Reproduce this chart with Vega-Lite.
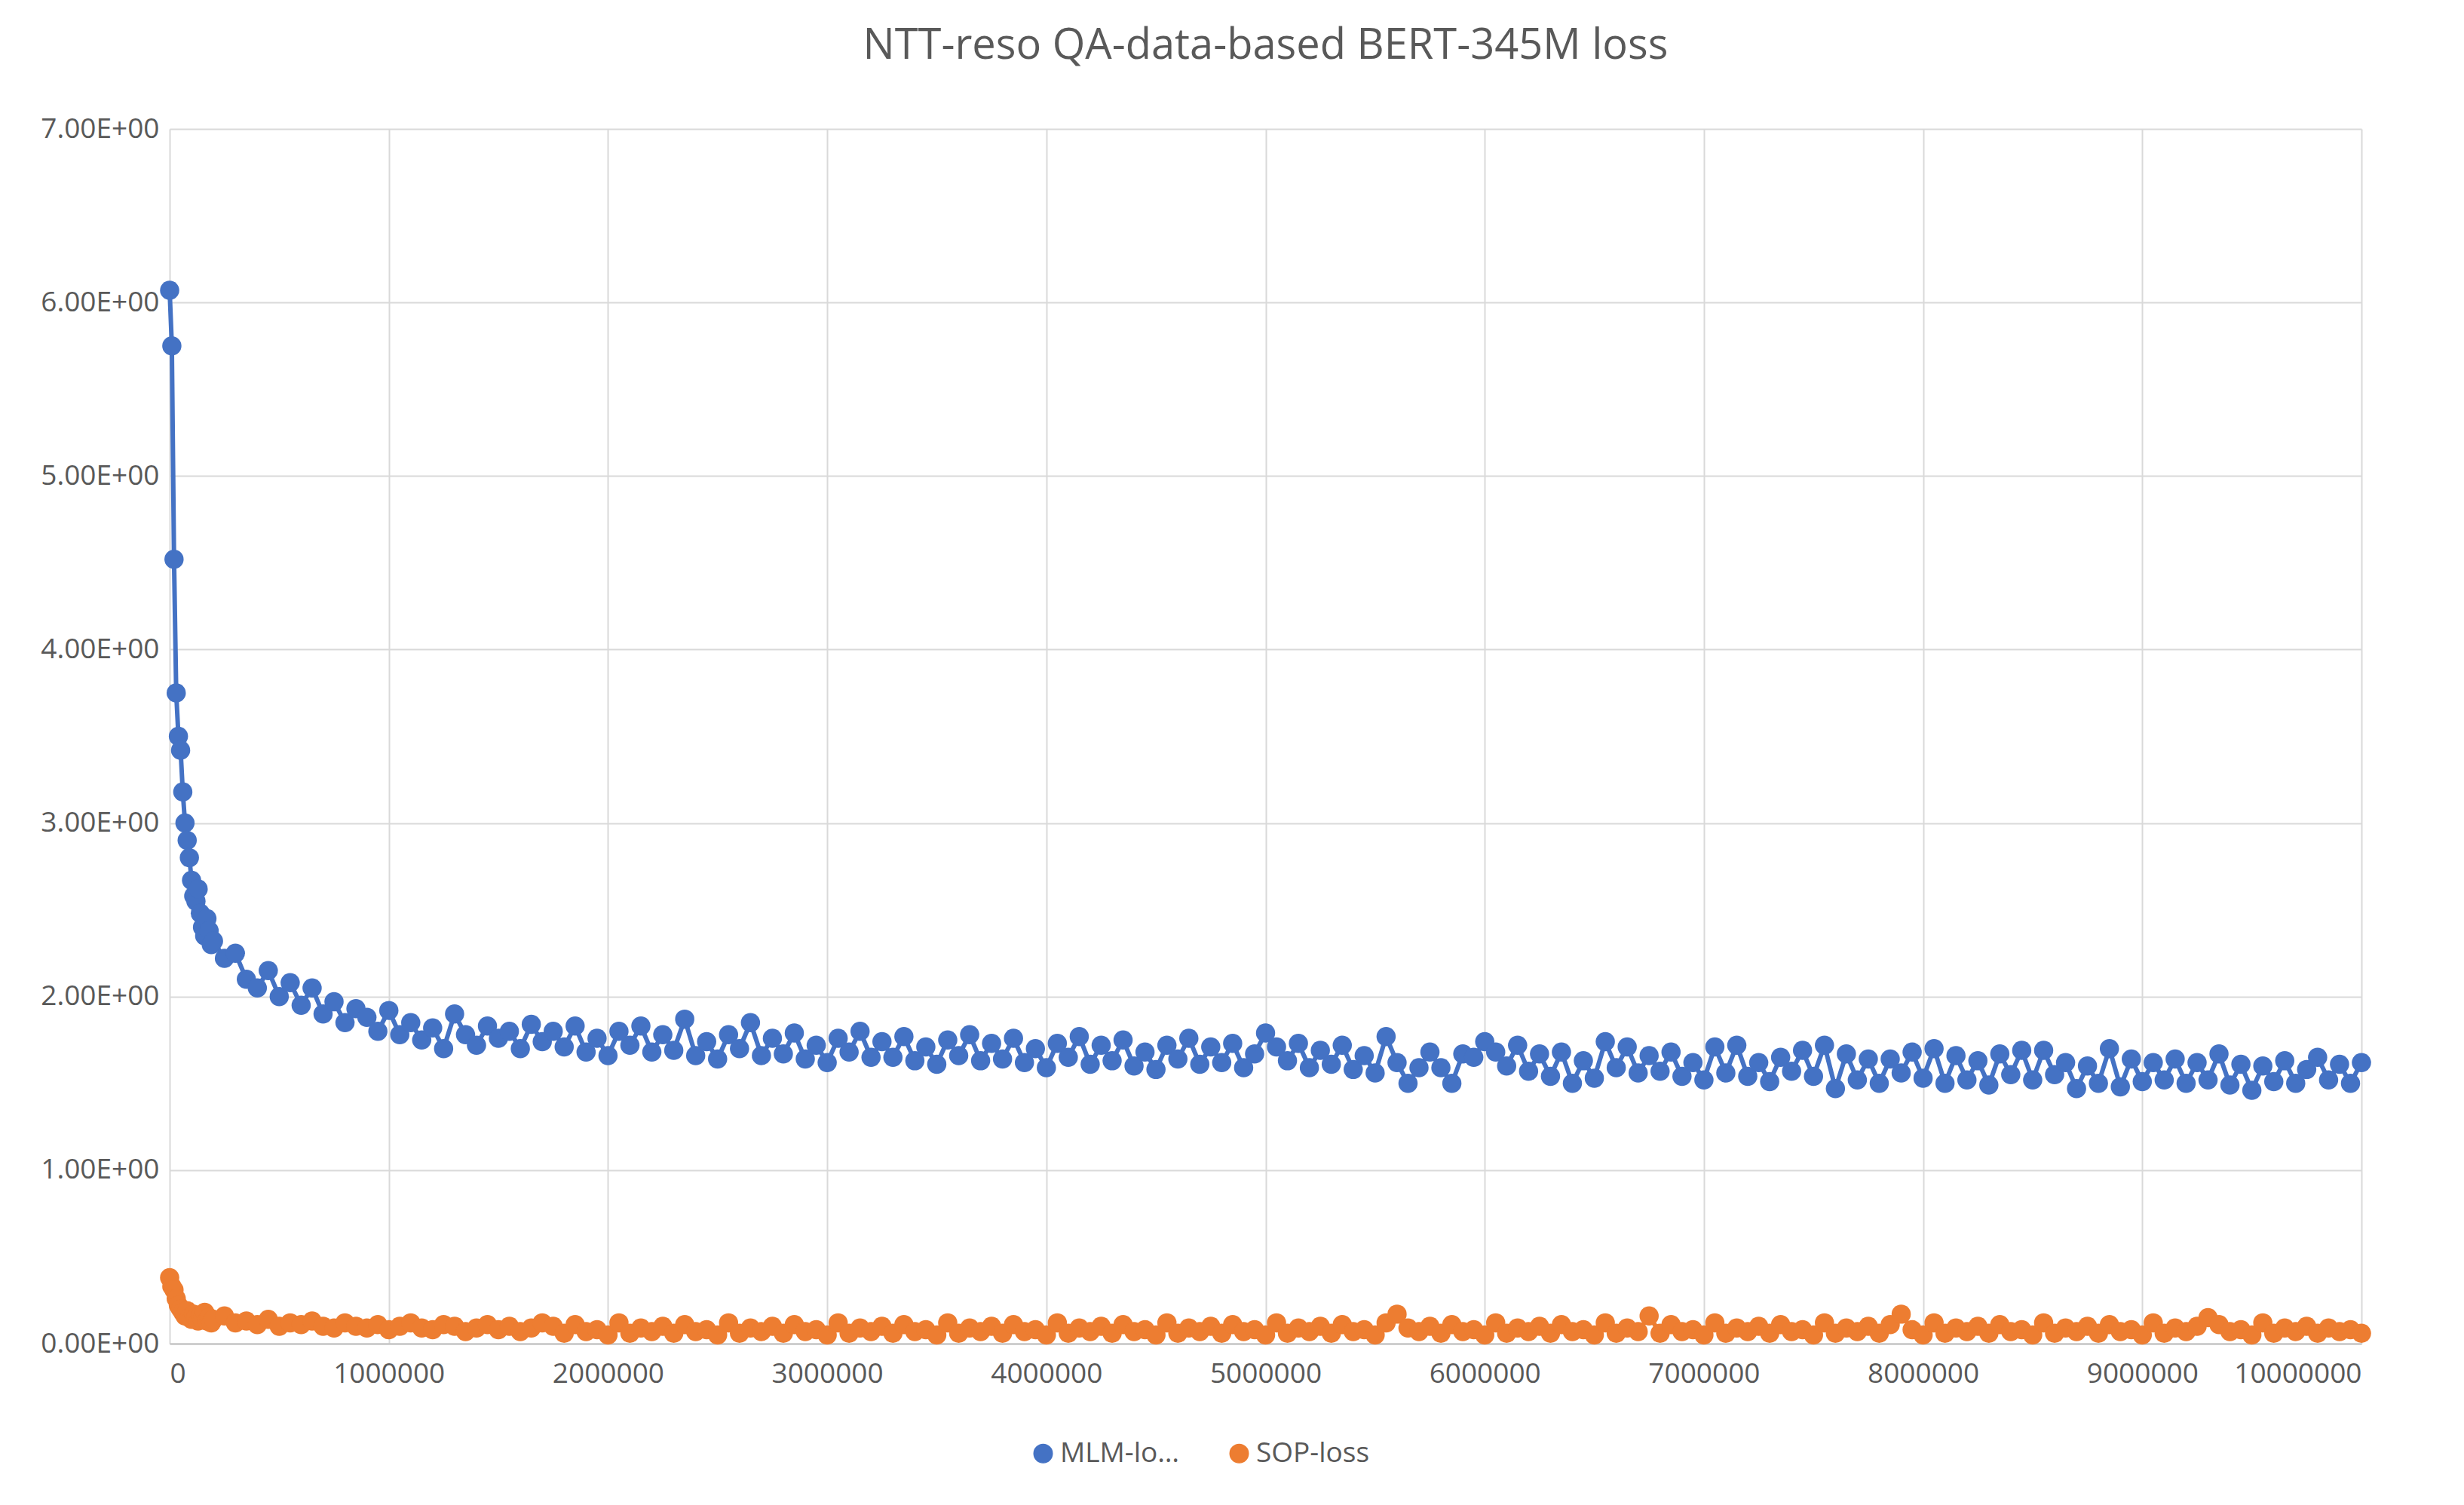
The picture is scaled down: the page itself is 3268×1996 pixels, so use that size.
{
  "$schema": "https://vega.github.io/schema/vega-lite/v6.json",
  "width": 2907,
  "height": 1611,
  "autosize": "none",
  "padding": {"left": 225, "top": 171, "right": 136, "bottom": 214},
  "background": "white",
  "title": {
    "text": "NTT-reso QA-data-based BERT-345M loss",
    "anchor": "middle",
    "offset": 62,
    "fontSize": 56,
    "font": "Open Sans",
    "fontWeight": "normal",
    "color": "#595959"
  },
  "data": {
    "values": [
      {"step": 0, "MLM": 6.07, "SOP": 0.38},
      {"step": 10000, "MLM": 5.75, "SOP": 0.33},
      {"step": 20000, "MLM": 4.52, "SOP": 0.31},
      {"step": 30000, "MLM": 3.75, "SOP": 0.26},
      {"step": 40000, "MLM": 3.5, "SOP": 0.22},
      {"step": 50000, "MLM": 3.42, "SOP": 0.2},
      {"step": 60000, "MLM": 3.18, "SOP": 0.18},
      {"step": 70000, "MLM": 3.0, "SOP": 0.16},
      {"step": 80000, "MLM": 2.9, "SOP": 0.19},
      {"step": 90000, "MLM": 2.8, "SOP": 0.15},
      {"step": 100000, "MLM": 2.67, "SOP": 0.14},
      {"step": 110000, "MLM": 2.58, "SOP": 0.17},
      {"step": 120000, "MLM": 2.55, "SOP": 0.15},
      {"step": 130000, "MLM": 2.62, "SOP": 0.13},
      {"step": 140000, "MLM": 2.48, "SOP": 0.16},
      {"step": 150000, "MLM": 2.4, "SOP": 0.14},
      {"step": 160000, "MLM": 2.35, "SOP": 0.18},
      {"step": 170000, "MLM": 2.45, "SOP": 0.13},
      {"step": 180000, "MLM": 2.38, "SOP": 0.15},
      {"step": 190000, "MLM": 2.3, "SOP": 0.12},
      {"step": 200000, "MLM": 2.32, "SOP": 0.14},
      {"step": 250000, "MLM": 2.22, "SOP": 0.16},
      {"step": 300000, "MLM": 2.25, "SOP": 0.12},
      {"step": 350000, "MLM": 2.1, "SOP": 0.13},
      {"step": 400000, "MLM": 2.05, "SOP": 0.11},
      {"step": 450000, "MLM": 2.15, "SOP": 0.14},
      {"step": 500000, "MLM": 2.0, "SOP": 0.1},
      {"step": 550000, "MLM": 2.08, "SOP": 0.12},
      {"step": 600000, "MLM": 1.95, "SOP": 0.11},
      {"step": 650000, "MLM": 2.05, "SOP": 0.13},
      {"step": 700000, "MLM": 1.9, "SOP": 0.1},
      {"step": 750000, "MLM": 1.97, "SOP": 0.09},
      {"step": 800000, "MLM": 1.85, "SOP": 0.12},
      {"step": 850000, "MLM": 1.93, "SOP": 0.1},
      {"step": 900000, "MLM": 1.88, "SOP": 0.09},
      {"step": 950000, "MLM": 1.8, "SOP": 0.11},
      {"step": 1000000, "MLM": 1.92, "SOP": 0.08},
      {"step": 1050000, "MLM": 1.78, "SOP": 0.1},
      {"step": 1100000, "MLM": 1.85, "SOP": 0.12},
      {"step": 1150000, "MLM": 1.75, "SOP": 0.09},
      {"step": 1200000, "MLM": 1.82, "SOP": 0.08},
      {"step": 1250000, "MLM": 1.7, "SOP": 0.11},
      {"step": 1300000, "MLM": 1.9, "SOP": 0.1},
      {"step": 1350000, "MLM": 1.78, "SOP": 0.07},
      {"step": 1400000, "MLM": 1.72, "SOP": 0.09},
      {"step": 1450000, "MLM": 1.83, "SOP": 0.11},
      {"step": 1500000, "MLM": 1.76, "SOP": 0.08},
      {"step": 1550000, "MLM": 1.8, "SOP": 0.1},
      {"step": 1600000, "MLM": 1.7, "SOP": 0.07},
      {"step": 1650000, "MLM": 1.84, "SOP": 0.09},
      {"step": 1700000, "MLM": 1.74, "SOP": 0.12},
      {"step": 1750000, "MLM": 1.8, "SOP": 0.1},
      {"step": 1800000, "MLM": 1.71, "SOP": 0.06},
      {"step": 1850000, "MLM": 1.83, "SOP": 0.11},
      {"step": 1900000, "MLM": 1.68, "SOP": 0.07},
      {"step": 1950000, "MLM": 1.76, "SOP": 0.08},
      {"step": 2000000, "MLM": 1.66, "SOP": 0.05},
      {"step": 2050000, "MLM": 1.8, "SOP": 0.12},
      {"step": 2100000, "MLM": 1.72, "SOP": 0.06},
      {"step": 2150000, "MLM": 1.83, "SOP": 0.09},
      {"step": 2200000, "MLM": 1.68, "SOP": 0.07},
      {"step": 2250000, "MLM": 1.78, "SOP": 0.1},
      {"step": 2300000, "MLM": 1.69, "SOP": 0.06},
      {"step": 2350000, "MLM": 1.87, "SOP": 0.11},
      {"step": 2400000, "MLM": 1.66, "SOP": 0.07},
      {"step": 2450000, "MLM": 1.74, "SOP": 0.08},
      {"step": 2500000, "MLM": 1.64, "SOP": 0.05},
      {"step": 2550000, "MLM": 1.78, "SOP": 0.12},
      {"step": 2600000, "MLM": 1.7, "SOP": 0.06},
      {"step": 2650000, "MLM": 1.85, "SOP": 0.09},
      {"step": 2700000, "MLM": 1.66, "SOP": 0.07},
      {"step": 2750000, "MLM": 1.76, "SOP": 0.1},
      {"step": 2800000, "MLM": 1.67, "SOP": 0.06},
      {"step": 2850000, "MLM": 1.79, "SOP": 0.11},
      {"step": 2900000, "MLM": 1.64, "SOP": 0.07},
      {"step": 2950000, "MLM": 1.72, "SOP": 0.08},
      {"step": 3000000, "MLM": 1.62, "SOP": 0.05},
      {"step": 3050000, "MLM": 1.76, "SOP": 0.12},
      {"step": 3100000, "MLM": 1.68, "SOP": 0.06},
      {"step": 3150000, "MLM": 1.8, "SOP": 0.09},
      {"step": 3200000, "MLM": 1.65, "SOP": 0.07},
      {"step": 3250000, "MLM": 1.74, "SOP": 0.1},
      {"step": 3300000, "MLM": 1.65, "SOP": 0.06},
      {"step": 3350000, "MLM": 1.77, "SOP": 0.11},
      {"step": 3400000, "MLM": 1.63, "SOP": 0.07},
      {"step": 3450000, "MLM": 1.71, "SOP": 0.08},
      {"step": 3500000, "MLM": 1.61, "SOP": 0.05},
      {"step": 3550000, "MLM": 1.75, "SOP": 0.12},
      {"step": 3600000, "MLM": 1.66, "SOP": 0.06},
      {"step": 3650000, "MLM": 1.78, "SOP": 0.09},
      {"step": 3700000, "MLM": 1.63, "SOP": 0.07},
      {"step": 3750000, "MLM": 1.73, "SOP": 0.1},
      {"step": 3800000, "MLM": 1.64, "SOP": 0.06},
      {"step": 3850000, "MLM": 1.76, "SOP": 0.11},
      {"step": 3900000, "MLM": 1.62, "SOP": 0.07},
      {"step": 3950000, "MLM": 1.7, "SOP": 0.08},
      {"step": 4000000, "MLM": 1.59, "SOP": 0.05},
      {"step": 4050000, "MLM": 1.73, "SOP": 0.12},
      {"step": 4100000, "MLM": 1.65, "SOP": 0.06},
      {"step": 4150000, "MLM": 1.77, "SOP": 0.09},
      {"step": 4200000, "MLM": 1.61, "SOP": 0.07},
      {"step": 4250000, "MLM": 1.72, "SOP": 0.1},
      {"step": 4300000, "MLM": 1.63, "SOP": 0.06},
      {"step": 4350000, "MLM": 1.75, "SOP": 0.11},
      {"step": 4400000, "MLM": 1.6, "SOP": 0.07},
      {"step": 4450000, "MLM": 1.68, "SOP": 0.08},
      {"step": 4500000, "MLM": 1.58, "SOP": 0.05},
      {"step": 4550000, "MLM": 1.72, "SOP": 0.12},
      {"step": 4600000, "MLM": 1.64, "SOP": 0.06},
      {"step": 4650000, "MLM": 1.76, "SOP": 0.09},
      {"step": 4700000, "MLM": 1.61, "SOP": 0.07},
      {"step": 4750000, "MLM": 1.71, "SOP": 0.1},
      {"step": 4800000, "MLM": 1.62, "SOP": 0.06},
      {"step": 4850000, "MLM": 1.73, "SOP": 0.11},
      {"step": 4900000, "MLM": 1.59, "SOP": 0.07},
      {"step": 4950000, "MLM": 1.67, "SOP": 0.08},
      {"step": 5000000, "MLM": 1.79, "SOP": 0.05},
      {"step": 5050000, "MLM": 1.71, "SOP": 0.12},
      {"step": 5100000, "MLM": 1.63, "SOP": 0.06},
      {"step": 5150000, "MLM": 1.73, "SOP": 0.09},
      {"step": 5200000, "MLM": 1.59, "SOP": 0.07},
      {"step": 5250000, "MLM": 1.69, "SOP": 0.1},
      {"step": 5300000, "MLM": 1.61, "SOP": 0.06},
      {"step": 5350000, "MLM": 1.72, "SOP": 0.11},
      {"step": 5400000, "MLM": 1.58, "SOP": 0.07},
      {"step": 5450000, "MLM": 1.66, "SOP": 0.08},
      {"step": 5500000, "MLM": 1.56, "SOP": 0.05},
      {"step": 5550000, "MLM": 1.77, "SOP": 0.12},
      {"step": 5600000, "MLM": 1.62, "SOP": 0.17},
      {"step": 5650000, "MLM": 1.5, "SOP": 0.09},
      {"step": 5700000, "MLM": 1.59, "SOP": 0.07},
      {"step": 5750000, "MLM": 1.68, "SOP": 0.1},
      {"step": 5800000, "MLM": 1.59, "SOP": 0.06},
      {"step": 5850000, "MLM": 1.5, "SOP": 0.11},
      {"step": 5900000, "MLM": 1.67, "SOP": 0.07},
      {"step": 5950000, "MLM": 1.65, "SOP": 0.08},
      {"step": 6000000, "MLM": 1.74, "SOP": 0.05},
      {"step": 6050000, "MLM": 1.68, "SOP": 0.12},
      {"step": 6100000, "MLM": 1.6, "SOP": 0.06},
      {"step": 6150000, "MLM": 1.72, "SOP": 0.09},
      {"step": 6200000, "MLM": 1.57, "SOP": 0.07},
      {"step": 6250000, "MLM": 1.67, "SOP": 0.1},
      {"step": 6300000, "MLM": 1.54, "SOP": 0.06},
      {"step": 6350000, "MLM": 1.68, "SOP": 0.11},
      {"step": 6400000, "MLM": 1.5, "SOP": 0.07},
      {"step": 6450000, "MLM": 1.63, "SOP": 0.08},
      {"step": 6500000, "MLM": 1.53, "SOP": 0.05},
      {"step": 6550000, "MLM": 1.74, "SOP": 0.12},
      {"step": 6600000, "MLM": 1.59, "SOP": 0.06},
      {"step": 6650000, "MLM": 1.71, "SOP": 0.09},
      {"step": 6700000, "MLM": 1.56, "SOP": 0.07},
      {"step": 6750000, "MLM": 1.66, "SOP": 0.16},
      {"step": 6800000, "MLM": 1.57, "SOP": 0.06},
      {"step": 6850000, "MLM": 1.68, "SOP": 0.11},
      {"step": 6900000, "MLM": 1.54, "SOP": 0.07},
      {"step": 6950000, "MLM": 1.62, "SOP": 0.08},
      {"step": 7000000, "MLM": 1.52, "SOP": 0.05},
      {"step": 7050000, "MLM": 1.71, "SOP": 0.12},
      {"step": 7100000, "MLM": 1.56, "SOP": 0.06},
      {"step": 7150000, "MLM": 1.72, "SOP": 0.09},
      {"step": 7200000, "MLM": 1.54, "SOP": 0.07},
      {"step": 7250000, "MLM": 1.62, "SOP": 0.1},
      {"step": 7300000, "MLM": 1.51, "SOP": 0.06},
      {"step": 7350000, "MLM": 1.65, "SOP": 0.11},
      {"step": 7400000, "MLM": 1.57, "SOP": 0.07},
      {"step": 7450000, "MLM": 1.69, "SOP": 0.08},
      {"step": 7500000, "MLM": 1.54, "SOP": 0.05},
      {"step": 7550000, "MLM": 1.72, "SOP": 0.12},
      {"step": 7600000, "MLM": 1.47, "SOP": 0.06},
      {"step": 7650000, "MLM": 1.67, "SOP": 0.09},
      {"step": 7700000, "MLM": 1.52, "SOP": 0.07},
      {"step": 7750000, "MLM": 1.64, "SOP": 0.1},
      {"step": 7800000, "MLM": 1.5, "SOP": 0.06},
      {"step": 7850000, "MLM": 1.64, "SOP": 0.11},
      {"step": 7900000, "MLM": 1.56, "SOP": 0.17},
      {"step": 7950000, "MLM": 1.68, "SOP": 0.08},
      {"step": 8000000, "MLM": 1.53, "SOP": 0.05},
      {"step": 8050000, "MLM": 1.7, "SOP": 0.12},
      {"step": 8100000, "MLM": 1.5, "SOP": 0.06},
      {"step": 8150000, "MLM": 1.66, "SOP": 0.09},
      {"step": 8200000, "MLM": 1.52, "SOP": 0.07},
      {"step": 8250000, "MLM": 1.63, "SOP": 0.1},
      {"step": 8300000, "MLM": 1.49, "SOP": 0.06},
      {"step": 8350000, "MLM": 1.67, "SOP": 0.11},
      {"step": 8400000, "MLM": 1.55, "SOP": 0.07},
      {"step": 8450000, "MLM": 1.69, "SOP": 0.08},
      {"step": 8500000, "MLM": 1.52, "SOP": 0.05},
      {"step": 8550000, "MLM": 1.69, "SOP": 0.12},
      {"step": 8600000, "MLM": 1.55, "SOP": 0.06},
      {"step": 8650000, "MLM": 1.62, "SOP": 0.09},
      {"step": 8700000, "MLM": 1.47, "SOP": 0.07},
      {"step": 8750000, "MLM": 1.6, "SOP": 0.1},
      {"step": 8800000, "MLM": 1.5, "SOP": 0.06},
      {"step": 8850000, "MLM": 1.7, "SOP": 0.11},
      {"step": 8900000, "MLM": 1.48, "SOP": 0.07},
      {"step": 8950000, "MLM": 1.64, "SOP": 0.08},
      {"step": 9000000, "MLM": 1.51, "SOP": 0.05},
      {"step": 9050000, "MLM": 1.62, "SOP": 0.12},
      {"step": 9100000, "MLM": 1.52, "SOP": 0.06},
      {"step": 9150000, "MLM": 1.64, "SOP": 0.09},
      {"step": 9200000, "MLM": 1.5, "SOP": 0.07},
      {"step": 9250000, "MLM": 1.62, "SOP": 0.1},
      {"step": 9300000, "MLM": 1.52, "SOP": 0.15},
      {"step": 9350000, "MLM": 1.67, "SOP": 0.11},
      {"step": 9400000, "MLM": 1.49, "SOP": 0.07},
      {"step": 9450000, "MLM": 1.61, "SOP": 0.08},
      {"step": 9500000, "MLM": 1.46, "SOP": 0.05},
      {"step": 9550000, "MLM": 1.6, "SOP": 0.12},
      {"step": 9600000, "MLM": 1.51, "SOP": 0.06},
      {"step": 9650000, "MLM": 1.63, "SOP": 0.09},
      {"step": 9700000, "MLM": 1.5, "SOP": 0.07},
      {"step": 9750000, "MLM": 1.58, "SOP": 0.1},
      {"step": 9800000, "MLM": 1.65, "SOP": 0.06},
      {"step": 9850000, "MLM": 1.52, "SOP": 0.09},
      {"step": 9900000, "MLM": 1.61, "SOP": 0.07},
      {"step": 9950000, "MLM": 1.5, "SOP": 0.08},
      {"step": 10000000, "MLM": 1.62, "SOP": 0.06}
    ]
  },
  "transform": [
    {"fold": ["MLM", "SOP"], "as": ["series", "loss"]}
  ],
  "mark": {
    "type": "line",
    "strokeWidth": 6,
    "point": {"size": 650, "filled": true, "opacity": 1}
  },
  "encoding": {
    "x": {
      "field": "step",
      "type": "quantitative",
      "scale": {"domain": [0, 10000000], "nice": false},
      "axis": {
        "title": null,
        "values": [0, 1000000, 2000000, 3000000, 4000000, 5000000, 6000000, 7000000, 8000000, 9000000, 10000000],
        "format": "d",
        "labelFontSize": 37,
        "labelFont": "Open Sans",
        "labelColor": "#595959",
        "labelPadding": 22,
        "grid": true,
        "gridColor": "#d9d9d9",
        "gridWidth": 2,
        "domainColor": "#bfbfbf",
        "domainWidth": 2,
        "ticks": false
      }
    },
    "y": {
      "field": "loss",
      "type": "quantitative",
      "scale": {"domain": [0, 7], "nice": false},
      "axis": {
        "title": null,
        "values": [0, 1, 2, 3, 4, 5, 6, 7],
        "labelExpr": "replace(format(datum.value, '.2e'), 'e+0', 'E+00')",
        "labelFontSize": 37,
        "labelFont": "Open Sans",
        "labelColor": "#595959",
        "labelPadding": 14,
        "grid": true,
        "gridColor": "#d9d9d9",
        "gridWidth": 2,
        "domain": false,
        "ticks": false
      }
    },
    "color": {
      "field": "series",
      "type": "nominal",
      "scale": {"domain": ["MLM", "SOP"], "range": ["#4472C4", "#ED7D31"]},
      "legend": {
        "title": null,
        "orient": "none",
        "direction": "horizontal",
        "legendX": 1140,
        "legendY": 1738,
        "labelExpr": "datum.value + '-loss'",
        "labelFontSize": 37,
        "labelFont": "Open Sans",
        "labelColor": "#595959",
        "symbolType": "circle",
        "symbolSize": 600,
        "columnPadding": 60
      }
    }
  },
  "config": {"view": {"stroke": null}}
}
